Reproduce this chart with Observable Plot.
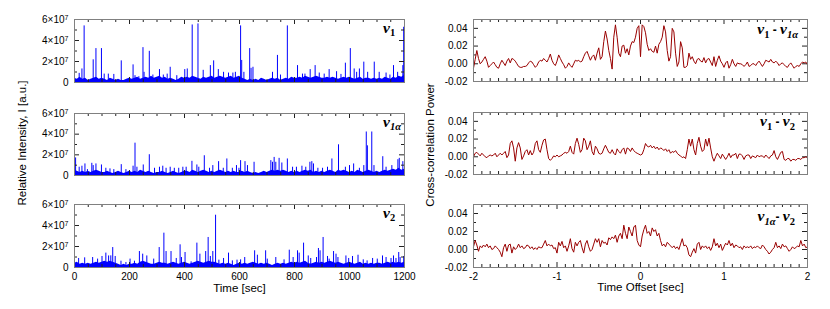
<!DOCTYPE html>
<html><head><meta charset="utf-8">
<script src="https://cdn.jsdelivr.net/npm/d3@7"></script>
<script src="https://cdn.jsdelivr.net/npm/@observablehq/plot@0.6"></script>
<style>
body{margin:0;background:#fff;}
#chart{position:relative;width:830px;height:309px;overflow:hidden;background:#fff;}
#chart svg{position:absolute;}
</style></head><body><div id="chart"></div>
<script>
// ---------- tick values / labels ----------
const timeTicks = [0, 200, 400, 600, 800, 1000, 1200];
const timeTickLabels = ["0", "200", "400", "600", "800", "1000", "1200"];
const timeMinorTicks = [50,100,150,250,300,350,450,500,550,650,700,750,850,900,950,1050,1100,1150];
const intensityTicks = [0, 2e7, 4e7, 6e7];
const intensityTickLabels = ["0", "2×10^7", "4×10^7", "6×10^7"];
const intensityMinorTicks = [1e7, 3e7, 5e7];
const offsetTicks = [-2, -1, 0, 1, 2];
const offsetTickLabels = ["-2", "-1", "0", "1", "2"];
const offsetMinorTicks = [-1.9,-1.8,-1.7,-1.6,-1.5,-1.4,-1.3,-1.2,-1.1,-0.9,-0.8,-0.7,-0.6,-0.5,-0.4,-0.3,-0.2,-0.1,0.1,0.2,0.3,0.4,0.5,0.6,0.7,0.8,0.9,1.1,1.2,1.3,1.4,1.5,1.6,1.7,1.8,1.9];
const powerTicks = [-0.02, 0, 0.02, 0.04];
const powerTickLabels = ["-0.02", "0.00", "0.02", "0.04"];
const powerMinorTicks = [-0.01, 0.01, 0.03];

// ---------- intensity series (units of 1e6), baseline sampled every 10 s ----------
const baselineTimes = d3.range(0, 1201, 10);
const baselineV1 = [4,3,5,3,4,2,3,4,5,3,4,
  3,2,4,3,2,3,2,2,3,4, 3,4,5,3,4,5,4,6,4,5, 6,4,5,3,4,3,2,3,5,4, 5,4,6,5,4,3,5,4,5,6,
  4,5,6,5,4,5,6,4,5,6, 4,3,2,3,2,3,2,4,3,2, 3,4,3,4,2,3,4,3,5,4, 4,5,4,6,5,4,5,6,5,4,
  4,5,4,5,4,3,4,5,4,5, 4,3,4,5,3,4,4,3,4,3, 4,3,5,4,3,5,4,6,5,7];
const baselineV1a = [5,4,3,4,3,4,3,4,5,4,3,
  3,4,3,2,3,4,3,2,3,4, 3,4,3,5,4,3,4,3,2,3, 3,4,3,2,3,4,3,2,3,4, 4,3,5,4,3,4,5,4,3,4,
  3,4,5,4,3,4,3,4,3,3, 4,3,4,3,2,3,2,3,4,3, 4,5,4,5,4,5,4,3,4,3, 4,3,4,5,4,5,3,4,3,4,
  3,4,5,4,3,5,4,5,4,3, 4,3,5,4,3,4,5,4,3,4, 3,4,5,4,5,6,5,7,5,6];
const baselineV2 = [4,5,3,4,3,4,3,4,5,4,5,
  6,5,6,5,4,3,2,3,2,3, 3,4,3,5,6,5,4,3,3,4, 5,4,4,3,4,5,4,3,4,5, 4,3,4,5,6,5,4,5,6,5,
  5,4,3,4,3,4,3,2,3,4, 3,4,3,4,5,4,3,4,3,4, 3,2,3,4,3,4,3,4,5,4, 5,4,5,6,4,3,4,5,4,5,
  4,5,6,5,4,5,4,3,4,5, 4,3,4,5,3,4,3,4,3,4, 4,3,4,5,4,5,4,5,4,5];

// spikes: [time (s), intensity (1e6)]
const spikesV1 = [[17,8.7],[27,12.9],[35,53.9],[68,21.6],[78,32.3],[98,32.3],[108,8],[123,8],[143,7.7],[170,20.6],
  [213,16.8],[220,6.5],[234,5.5],[249,33.2],[253,9.7],[272,29.7],[285,7.1],[309,12.3],[323,7.1],[337,8],[348,14.5],
  [372,6.5],[401,12.3],[410,12.9],[428,54.8],[449,55.8],[468,11.6],[494,16.1],[506,20.6],[523,12.3],[542,9.7],
  [560,9],[576,9],[585,9.7],[604,53.9],[608,21],[616,9.7],[637,32.3],[642,13.5],[649,14.5],[720,9.7],[738,25.8],
  [749,7.1],[774,53.9],[811,16.1],[829,8],[838,8],[857,12.3],[875,16.1],[890,9],[908,8],[926,12.3],[953,10.3],
  [969,7.7],[985,18.4],[1003,32.3],[1017,12.9],[1026,9.7],[1036,12.9],[1052,19.4],[1066,9.7],[1090,19.4],
  [1108,9.7],[1133,9],[1147,7.1],[1160,16.1],[1175,9.7],[1194,16.1],[1197,52.6]];
const spikesV1a = [[4,17],[17,8],[27,9],[38,11.2],[47,5.7],[63,11.8],[68,9.6],[78,11.2],[98,10.2],[114,7],[129,6.4],
  [143,5.7],[170,10.5],[187,5.7],[213,9],[220,31.3],[227,8],[250,10.2],[272,20.1],[291,7],[309,8],[321,9],[333,7],
  [348,8],[363,7],[379,7],[394,8],[406,8],[427,13.7],[445,10.2],[452,8],[472,19.1],[491,7],[503,9.6],[524,13.4],
  [541,7],[554,16],[574,7],[589,9.6],[598,7],[604,14.4],[620,13.4],[629,9.6],[653,12.8],[714,14.4],[720,12.8],
  [726,17.5],[732,12.8],[744,16.6],[754,12.1],[774,16],[793,8],[807,8],[827,9],[841,8],[856,12.8],[863,13.4],
  [869,11.2],[885,7],[902,7],[920,8],[936,16],[960,29.7],[985,8],[1000,9.6],[1015,11.2],[1036,7],[1052,9.6],
  [1061,42.1],[1065,28.7],[1081,42.1],[1089,9.6],[1121,18.2],[1133,8],[1154,9.6],[1176,15.3],[1181,16.6],[1194,13.4]];
const spikesV2 = [[15,8.6],[37,9.2],[66,9.5],[84,8],[100,10.5],[114,13.7],[124,11],[132,11.1],[139,19],[148,10.5],
  [169,6],[187,4.8],[202,8],[218,6],[236,15.2],[248,12.7],[263,11],[288,8],[308,19],[325,32.7],[333,15.2],
  [351,15.2],[370,8.6],[384,21.6],[389,9.5],[402,14.3],[424,5.4],[445,23.2],[456,12.7],[477,15.2],[486,28.6],
  [494,10.5],[503,15.2],[513,49.8],[525,7],[542,8.6],[560,13.7],[574,6.3],[591,7],[604,7.3],[619,9.5],[655,15.9],
  [665,11.7],[695,15.9],[701,8],[732,9.5],[762,7.3],[781,16.5],[795,9.5],[811,15.9],[817,13.7],[833,23.2],
  [850,11],[859,8.6],[880,9.5],[887,18.1],[893,15.9],[904,28.6],[920,10.5],[926,8],[942,15.2],[951,12.7],
  [958,9.5],[987,11],[997,8.6],[1011,10.5],[1031,11.7],[1050,7.3],[1064,6.3],[1084,8.6],[1101,8],[1120,11],
  [1133,9.5],[1151,8.6],[1160,11],[1169,8.6],[1179,14.3],[1184,9.5],[1197,10.5]];

// ---------- cross-correlation power (units of 1e-3), sampled every 0.02 s from -2 to 2 ----------
const ccV1V1a = [-5,5,15,6,0,2,5,8,3,-4, -2,0,2,-1,-4,-5,0,4,1,-2, 3,6,1,6,5,3,0,-3,-4,-4,
  -3,-3,-2,1,3,2,-1,-4,-2,2, 4,3,6,4,2,6,11,4,0,-2, 3,10,6,2,-1,-5,-3,1,-2,-4,
  0,4,3,4,2,3,8,12,14,9, 4,8,10,4,12,18,5,8,25,37, 28,15,6,-6,30,44,30,12,8,20,
  21,12,17,10,20,25,24,30,40,43, 8,44,42,35,22,15,17,14,13,20, 12,22,25,30,43,36,15,3,8,40,
  36,12,-3,2,25,18,-4,-4,-2,12, 5,8,3,0,5,6,3,2,7,1, 5,6,2,-2,8,-3,4,9,3,0,
  -4,1,3,-5,-1,5,0,-3,1,0, 0,-1,-3,-1,2,-3,-2,0,0,-2, 1,3,0,-3,0,4,3,2,5,2,
  1,3,1,-2,0,1,-1,-3,-4,-1, 1,-2,-5,-3,-2,-3,0,2,1,2, -1];
const ccV1V2 = [0,4,5,3,1,4,2,0,-1,1, 2,1,2,4,0,2,4,2,4,6, -1,2,15,18,10,-5,10,16,10,-3,
  1,6,8,2,7,2,5,15,18,8, 5,13,19,20,8,-2,-4,-2,1,0, 2,0,1,2,4,5,4,6,12,5,
  3,15,21,14,5,8,21,18,8,12, 18,6,2,12,9,4,3,4,9,13, 9,5,4,8,4,2,9,6,4,8,
  10,3,10,9,6,10,7,5,4,3, 2,3,8,15,12,11,13,10,12,9, 11,8,10,9,7,9,6,8,4,6,
  5,7,4,2,1,-1,0,-2,8,20, 12,20,8,2,15,22,12,6,8,20, 12,21,10,0,-5,0,4,1,-2,3,
  0,-3,0,4,-1,2,2,4,-2,3, 3,1,-3,1,2,2,-2,1,0,-1, 2,0,1,1,-1,2,0,-2,1,2,
  7,0,-3,1,5,6,-3,-4,-2,-2, -5,-3,-3,-4,-2,-2,-3,-1,-1,0, -1];
const ccV1aV2 = [3,10,5,-2,4,2,5,3,6,2, 4,0,1,4,2,0,-3,-8,2,6, -2,5,6,-4,3,0,2,6,2,4,
  1,2,5,4,1,3,0,2,0,3, 2,2,6,10,4,6,4,5,1,2, -4,8,4,9,2,4,-2,4,12,1,
  -3,8,4,8,10,2,-4,6,10,3, -2,0,6,12,8,12,3,10,7,8, 5,13,11,14,12,16,8,15,18,12,
  27,18,12,25,20,15,25,27,10,5, 3,15,22,27,18,20,15,24,20,22, 15,18,10,4,6,3,8,6,4,2,
  4,1,3,0,6,12,4,5,2,-6, -8,-3,1,-4,6,8,0,4,2,4, 1,3,-1,3,12,4,7,2,6,-1,
  3,7,5,10,4,7,2,5,4,2, 3,0,4,2,3,2,4,1,3,2, 4,2,1,5,3,0,-2,-5,-3,0,
  2,8,2,4,1,6,3,4,1,-2, 0,3,1,2,4,3,10,4,6,2, 3];

// ---------- helpers ----------
const chart = document.getElementById("chart");
const baseStyle = {fontFamily: '"Liberation Sans", Arial, sans-serif', fontSize: "10px", color: "#000", background: "transparent", overflow: "visible"};
const lab = (ticks, labels) => d => labels[ticks.indexOf(d)];

function tickMarks(fw, fh, xMajor, xMinor, yMajor, yMinor) {
  const s = {stroke: "#222", strokeWidth: 1};
  return [
    Plot.tickX(xMajor, {x: d => d, insetTop: fh - 5, ...s}),
    Plot.tickX(xMajor, {x: d => d, insetBottom: fh - 5, ...s}),
    Plot.tickX(xMinor, {x: d => d, insetTop: fh - 3, ...s}),
    Plot.tickX(xMinor, {x: d => d, insetBottom: fh - 3, ...s}),
    Plot.tickY(yMajor, {y: d => d, insetRight: fw - 5, ...s}),
    Plot.tickY(yMajor, {y: d => d, insetLeft: fw - 5, ...s}),
    Plot.tickY(yMinor, {y: d => d, insetRight: fw - 3, ...s}),
    Plot.tickY(yMinor, {y: d => d, insetLeft: fw - 3, ...s})
  ];
}

// turn "a^b" tick labels into a base text with a raised exponent
function superscriptLabels(svg) {
  d3.select(svg).selectAll("text").each(function () {
    const el = d3.select(this);
    if (el.selectAll("tspan").size() > 0) return;
    const s = el.text();
    if (!s.includes("^")) return;
    const [base, exp] = s.split("^");
    el.text(null);
    el.append("tspan").text(base);
    el.append("tspan").attr("dy", "-0.45em").attr("font-size", "7px").text(exp);
  });
}

function addLabel(svg, plot, parts, opt) {
  const xr = plot.scale("x").range, yr = plot.scale("y").range;
  const right = Math.max(...xr), top = Math.min(...yr);
  const t = d3.select(svg).append("text")
    .attr("x", right + opt.dx).attr("y", top + opt.dy)
    .attr("text-anchor", opt.anchor).attr("fill", "#000");
  let shift = 0;
  for (const [s, kind] of parts) {
    const ts = t.append("tspan").text(s);
    const target = kind === "sub" ? 3.5 : 0;
    if (target !== shift) { ts.attr("dy", target - shift); shift = target; }
    if (kind === "main") ts.attr("font-family", '"Liberation Serif", serif').attr("font-style", "italic").attr("font-weight", "bold").attr("font-size", 15.5);
    else if (kind === "sub") ts.attr("font-family", '"Liberation Serif", serif').attr("font-weight", "bold").attr("font-style", s.includes("α") ? "italic" : "normal").attr("font-size", 10.5);
    else ts.attr("font-family", '"Liberation Sans", Arial, sans-serif').attr("font-weight", "bold").attr("font-size", 12).attr("xml:space", "preserve").style("white-space", "pre");
  }
}

function place(svg, left, top) {
  svg.style.left = left + "px";
  svg.style.top = top + "px";
  chart.appendChild(svg);
}

// ---------- left: intensity panels ----------
function leftPanel({baseline, spikes, svgTop, mt, fh, mb, bottom, label}) {
  const fw = 330;
  const marks = [
    Plot.areaY(baseline, {x: (d, i) => baselineTimes[i], y: d => d * 1e6, fill: "#0000ff"}),
    Plot.ruleX(spikes, {x: d => d[0], y1: 0, y2: d => d[1] * 1e6, stroke: "#0000ff", strokeWidth: 1}),
    ...tickMarks(fw, fh, timeTicks, timeMinorTicks, intensityTicks, intensityMinorTicks),
    Plot.frame({stroke: "#808080"}),
    Plot.axisY({ticks: intensityTicks, tickSize: 0, tickPadding: 6, tickFormat: lab(intensityTicks, intensityTickLabels), label: null, fontSize: 10})
  ];
  if (bottom) {
    marks.push(Plot.axisX({ticks: timeTicks, tickSize: 0, tickPadding: 5, tickFormat: lab(timeTicks, timeTickLabels), label: null, fontSize: 10}));
    marks.push(Plot.text(["Time [sec]"], {text: d => d, frameAnchor: "bottom", dy: 21, lineAnchor: "middle", fontSize: 11.5, fill: "#000"}));
  }
  const plot = Plot.plot({
    width: 415, height: mt + fh + mb, marginLeft: 74, marginRight: 11, marginTop: mt, marginBottom: mb,
    x: {domain: [0, 1200], axis: bottom ? undefined : null},
    y: {domain: [0, 6e7]},
    style: baseStyle, marks
  });
  superscriptLabels(plot);
  addLabel(plot, plot, label, {dx: -21, dy: 13.5, anchor: "start"});
  place(plot, 0, svgTop);
}

// ---------- right: cross-correlation panels ----------
function rightPanel({values, svgTop, mt, fh, mb, bottom, label, ldx, ldy}) {
  const fw = 334;
  const n = values.length;
  const marks = [
    ...tickMarks(fw, fh, offsetTicks, offsetMinorTicks, powerTicks, powerMinorTicks),
    Plot.lineY(values, {x: (d, i) => -2 + 4 * i / (n - 1), y: d => d / 1000, stroke: "#990000", strokeWidth: 1}),
    Plot.frame({stroke: "#808080"}),
    Plot.axisY({ticks: powerTicks, tickSize: 0, tickPadding: 6, tickFormat: lab(powerTicks, powerTickLabels), label: null, fontSize: 10})
  ];
  if (bottom) {
    marks.push(Plot.axisX({ticks: offsetTicks, tickSize: 0, tickPadding: 5, tickFormat: lab(offsetTicks, offsetTickLabels), label: null, fontSize: 10}));
    marks.push(Plot.text(["Time Offset [sec]"], {text: d => d, frameAnchor: "bottom", dy: 19.5, lineAnchor: "middle", fontSize: 11.5, fill: "#000"}));
  }
  const plot = Plot.plot({
    width: 415, height: mt + fh + mb, marginLeft: 58, marginRight: 23, marginTop: mt, marginBottom: mb,
    x: {domain: [-2, 2], axis: bottom ? undefined : null},
    y: {domain: [-0.02, 0.05]},
    style: baseStyle, marks
  });
  addLabel(plot, plot, label, {dx: ldx, dy: ldy, anchor: "end"});
  place(plot, 415, svgTop);
}

leftPanel({baseline: baselineV1, spikes: spikesV1, svgTop: 0, mt: 19, fh: 63, mb: 4, bottom: false, label: [["ν", "main"], ["1", "sub"]]});
leftPanel({baseline: baselineV1a, spikes: spikesV1a, svgTop: 90, mt: 23, fh: 62, mb: 4, bottom: false, label: [["ν", "main"], ["1α", "sub"]]});
leftPanel({baseline: baselineV2, spikes: spikesV2, svgTop: 180, mt: 24, fh: 63, mb: 40, bottom: true, label: [["ν", "main"], ["2", "sub"]]});

rightPanel({values: ccV1V1a, svgTop: 0, mt: 19, fh: 62, mb: 4, bottom: false, ldx: -9, ldy: 15.3,
  label: [["ν", "main"], ["1", "sub"], [" - ", "sep"], ["ν", "main"], ["1α", "sub"]]});
rightPanel({values: ccV1V2, svgTop: 90, mt: 22, fh: 62, mb: 4, bottom: false, ldx: -12, ldy: 14.4,
  label: [["ν", "main"], ["1", "sub"], [" - ", "sep"], ["ν", "main"], ["2", "sub"]]});
rightPanel({values: ccV1aV2, svgTop: 180, mt: 24, fh: 63, mb: 40, bottom: true, ldx: -12, ldy: 17.4,
  label: [["ν", "main"], ["1α", "sub"], ["- ", "sep"], ["ν", "main"], ["2", "sub"]]});

// ---------- shared y-axis titles ----------
const overlay = d3.create("svg").attr("width", 830).attr("height", 309)
  .style("left", "0px").style("top", "0px").style("pointer-events", "none")
  .attr("font-family", '"Liberation Sans", Arial, sans-serif').attr("font-size", 11.5);
overlay.append("text").attr("transform", "translate(22,143) rotate(-90)")
  .attr("text-anchor", "middle").attr("dominant-baseline", "central").text("Relative Intensity, I [a.u.]");
overlay.append("text").attr("transform", "translate(430,145) rotate(-90)")
  .attr("text-anchor", "middle").attr("dominant-baseline", "central").text("Cross-correlation Power");
chart.appendChild(overlay.node());
</script></body></html>
